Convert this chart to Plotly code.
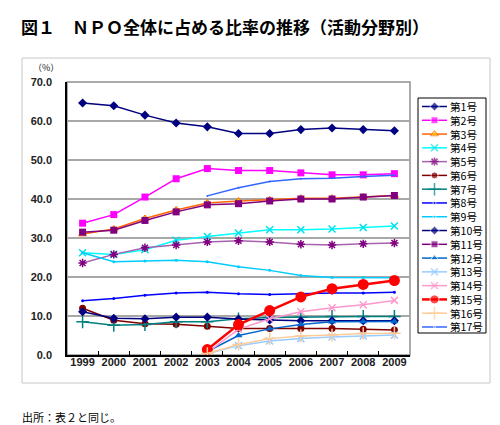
import plotly.graph_objects as go

years = ["1999", "2000", "2001", "2002", "2003", "2004", "2005", "2006", "2007", "2008", "2009"]
y_ticks = [0, 10, 20, 30, 40, 50, 60, 70]

s1 = [64.6, 63.9, 61.5, 59.5, 58.5, 56.8, 56.8, 57.8, 58.2, 57.8, 57.5]
s2 = [33.8, 36.0, 40.5, 45.2, 47.8, 47.3, 47.3, 46.7, 46.2, 46.2, 46.5]
s3 = [31.0, 32.3, 35.0, 37.2, 39.0, 39.5, 39.8, 40.2, 40.2, 40.6, 40.9]
s4 = [26.2, 25.8, 27.0, 29.4, 30.4, 31.3, 32.1, 32.1, 32.3, 32.7, 33.1]
s5 = [23.6, 25.8, 27.5, 28.2, 29.0, 29.3, 29.0, 28.4, 28.2, 28.5, 28.7]
s6 = [12.0, 8.9, 8.0, 7.9, 7.4, 6.8, 6.8, 6.8, 6.8, 6.6, 6.4]
s7 = [8.5, 7.6, 7.8, 8.5, 8.5, 9.3, 9.6, 9.7, 9.9, 9.9, 9.9]
s8 = [13.9, 14.5, 15.3, 15.9, 16.1, 15.7, 15.5, 15.7, 15.9, 15.9, 16.1]
s9 = [26.2, 23.9, 24.1, 24.3, 23.9, 22.6, 21.7, 20.4, 19.9, 19.9, 19.8]
s10 = [11.1, 9.4, 9.3, 9.7, 9.7, 9.2, 9.0, 8.8, 8.8, 8.8, 8.8]
s11 = [31.5, 32.0, 34.5, 36.7, 38.5, 38.8, 39.5, 40.0, 40.0, 40.5, 40.9]
s12 = [None, None, None, None, 0.9, 5.0, 6.7, 7.8, 8.5, 8.6, 8.6]
s13 = [None, None, None, None, 0.3, 2.4, 3.6, 4.2, 4.6, 4.9, 5.1]
s14 = [None, None, None, None, 0.6, 6.6, 9.3, 11.1, 12.1, 12.9, 14.0]
s15 = [None, None, None, None, 1.4, 7.8, 11.4, 14.9, 17.0, 18.1, 19.1]
s16 = [None, None, None, None, 0.4, 2.7, 4.2, 4.9, 5.1, 5.5, 5.6]
s17 = [None, None, None, None, 40.8, 42.9, 44.5, 45.2, 45.3, 45.8, 46.1]

names = ["第1号", "第2号", "第3号", "第4号", "第5号", "第6号", "第7号", "第8号", "第9号",
         "第10号", "第11号", "第12号", "第13号", "第14号", "第15号", "第16号", "第17号"]
series = [s1, s2, s3, s4, s5, s6, s7, s8, s9, s10, s11, s12, s13, s14, s15, s16, s17]

styles = [
    dict(line=dict(color="#000080", width=1.5), marker=dict(symbol="diamond", size=7, color="#000080")),
    dict(line=dict(color="#FF00FF", width=1.5), marker=dict(symbol="square", size=7, color="#FF00FF")),
    dict(line=dict(color="#FF6600", width=1.5), marker=dict(symbol="triangle-up", size=7, color="#FFCC00", line=dict(color="#FF6600", width=1))),
    dict(line=dict(color="#00FFFF", width=1.5), marker=dict(symbol="x-thin", size=7, color="#00FFFF", line=dict(color="#00E0F0", width=1.5))),
    dict(line=dict(color="#A860B0", width=1.5), marker=dict(symbol="asterisk", size=7, color="#800080", line=dict(color="#800080", width=1.5))),
    dict(line=dict(color="#800000", width=1.5), marker=dict(symbol="circle", size=7, color="#800000")),
    dict(line=dict(color="#008080", width=1.5), marker=dict(symbol="cross-thin", size=9, color="#008080", line=dict(color="#008080", width=1.5))),
    dict(line=dict(color="#0000FF", width=1.5), marker=dict(symbol="circle", size=3, color="#0000FF")),
    dict(line=dict(color="#00CCFF", width=1.5), marker=dict(symbol="circle", size=3, color="#00CCFF")),
    dict(line=dict(color="#000080", width=1.5), marker=dict(symbol="diamond", size=7, color="#000080")),
    dict(line=dict(color="#800080", width=1.5), marker=dict(symbol="square", size=7, color="#800080")),
    dict(line=dict(color="#0066CC", width=1.5), marker=dict(symbol="triangle-up", size=7, color="#0066CC")),
    dict(line=dict(color="#99CCFF", width=1.5), marker=dict(symbol="x-thin", size=7, color="#99CCFF", line=dict(color="#99CCFF", width=1.5))),
    dict(line=dict(color="#FF99CC", width=1.5), marker=dict(symbol="x-thin", size=7, color="#FF99CC", line=dict(color="#FF99CC", width=1.5))),
    dict(line=dict(color="#FF0000", width=2.5), marker=dict(symbol="circle", size=11, color="#FF0000")),
    dict(line=dict(color="#FFCC99", width=1.5), marker=dict(symbol="cross-thin", size=9, color="#FFCC99", line=dict(color="#FFCC99", width=1.5))),
    dict(line=dict(color="#3366FF", width=1.5), marker=dict(symbol="circle", size=2, color="#3366FF")),
]

W, H = 500, 425


def PX(x):
    return x / W


def PY(y):
    return 1 - y / H


# plot area (pixels)
L, R, T, B = 59, 402, 74, 347
# legend box (pixels)
LL, LR, LT, LB = 410, 478, 90, 325
ROW0, ROWSTEP = 8.5, 13.78
LEG_FONT = ROWSTEP / 1.3

fig = go.Figure()
for name, vals, st in zip(names, series, styles):
    fig.add_trace(go.Scatter(x=years, y=vals, name=name, mode="lines+markers",
                             line=st["line"], marker=st["marker"], connectgaps=False,
                             showlegend=False, xaxis="x", yaxis="y"))

# custom legend samples drawn on a hidden helper axis pair
for i, (name, st) in enumerate(zip(names, styles)):
    yy = ROW0 + ROWSTEP * i
    mk = dict(st["marker"])
    msize = 9 if i == 14 else min(mk["size"], 9)
    mk["size"] = [0, msize, 0]
    fig.add_trace(go.Scatter(x=[4, 16.5, 29], y=[yy, yy, yy], mode="lines+markers",
                             line=st["line"], marker=mk,
                             showlegend=False, hoverinfo="skip", xaxis="x2", yaxis="y2"))

legend_text = "<br>".join(names)
mid_row = ROW0 + ROWSTEP * (len(names) - 1) / 2

fig.update_layout(
    width=W, height=H,
    margin=dict(l=0, r=0, t=0, b=0),
    paper_bgcolor="white", plot_bgcolor="rgba(0,0,0,0)",
    font=dict(family="Liberation Sans, Arial", color="#222222"),
    showlegend=False,
    xaxis=dict(domain=[PX(L), PX(R)], anchor="y", type="category", showgrid=False, showline=True,
               linecolor="#000000", linewidth=1.5,
               ticks="inside", tickson="boundaries", ticklen=4, tickcolor="#000000", tickangle=0,
               tickfont=dict(size=11, color="#222222", family="Liberation Sans, Arial", weight="bold"),
               zeroline=False, range=[-0.5, 10.5], automargin=False, ticklabelstandoff=-4),
    yaxis=dict(domain=[PY(B), PY(T)], anchor="x", range=[0, 70], tickvals=y_ticks, tickformat=".1f",
               showgrid=True, gridcolor="#A8A8A8", gridwidth=1.5, showline=True, linecolor="#000000",
               linewidth=1.5, zeroline=False, automargin=False, ticklabelstandoff=11,
               tickfont=dict(size=11, color="#222222", family="Liberation Sans, Arial", weight="bold"),
               ticks=""),
    xaxis2=dict(domain=[PX(LL), PX(LR)], anchor="y2", range=[0, LR - LL], visible=False,
                fixedrange=True, automargin=False),
    yaxis2=dict(domain=[PY(LB), PY(LT)], anchor="x2", range=[LB - LT, 0], visible=False,
                fixedrange=True, automargin=False),
    shapes=[
        dict(type="rect", xref="paper", yref="paper", x0=PX(14), x1=PX(482), y0=PY(375), y1=PY(50),
             line=dict(color="#C8C8C8", width=1), layer="below"),
        dict(type="rect", xref="paper", yref="paper", x0=PX(L), x1=PX(R), y0=PY(B), y1=PY(T),
             line=dict(color="#909090", width=1.5), layer="below"),
        dict(type="rect", xref="paper", yref="paper", x0=PX(LL), x1=PX(LR), y0=PY(LB), y1=PY(LT),
             line=dict(color="#000000", width=1), fillcolor="white", layer="below"),
    ],
    annotations=[
        dict(text=legend_text, xref="x2", yref="y2", x=31, y=mid_row, xanchor="left",
             yanchor="middle", align="left", showarrow=False, borderpad=0,
             font=dict(family="Noto Sans CJK JP", size=LEG_FONT, color="#000000")),
        dict(text="<b>図１　ＮＰＯ全体に占める比率の推移（活動分野別）</b>", xref="paper", yref="paper",
             x=PX(11), y=PY(18), xanchor="left", yanchor="middle", showarrow=False,
             font=dict(family="Noto Sans CJK JP", size=17, color="#000000")),
        dict(text="（%）", xref="paper", yref="paper", x=PX(38), y=PY(60), xanchor="center",
             yanchor="middle", showarrow=False,
             font=dict(family="Noto Sans CJK JP", size=9, color="#222222")),
        dict(text="出所：表２と同じ。", xref="paper", yref="paper", x=PX(12), y=PY(409),
             xanchor="left", yanchor="middle", showarrow=False,
             font=dict(family="Noto Sans CJK JP", size=11, color="#000000")),
    ],
)

fig.write_html("out.html")
